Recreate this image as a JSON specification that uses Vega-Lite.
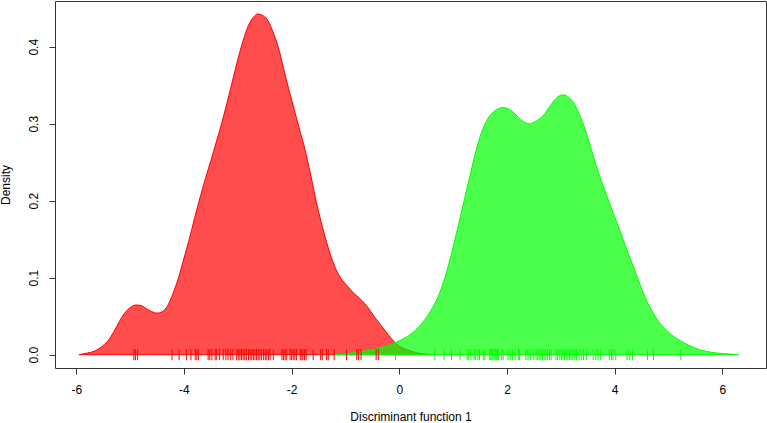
{
  "$schema": "https://vega.github.io/schema/vega-lite/v6.json",
  "width": 711,
  "height": 367,
  "autosize": "none",
  "padding": {"left": 55, "top": 1, "right": 1, "bottom": 55},
  "background": "white",
  "config": {
    "view": {"stroke": "#333333", "strokeWidth": 1},
    "font": "Liberation Sans",
    "axis": {"grid": false, "domain": false, "tickColor": "#333333", "tickSize": 6, "labelColor": "#000000", "titleColor": "#000000", "labelFont": "Liberation Sans", "titleFont": "Liberation Sans", "labelFontSize": 12, "titleFontSize": 12, "titleFontWeight": "normal"}
  },
  "datasets": {
    "dens": [
      {"g": "A", "x": -5.95, "y": 0}, {"g": "A", "x": -5.8, "y": 0.002}, {"g": "A", "x": -5.65, "y": 0.005},
      {"g": "A", "x": -5.5, "y": 0.012}, {"g": "A", "x": -5.4, "y": 0.019}, {"g": "A", "x": -5.3, "y": 0.03},
      {"g": "A", "x": -5.2, "y": 0.043}, {"g": "A", "x": -5.1, "y": 0.054}, {"g": "A", "x": -5.0, "y": 0.061},
      {"g": "A", "x": -4.9, "y": 0.0645}, {"g": "A", "x": -4.8, "y": 0.064}, {"g": "A", "x": -4.7, "y": 0.06},
      {"g": "A", "x": -4.6, "y": 0.056}, {"g": "A", "x": -4.5, "y": 0.054}, {"g": "A", "x": -4.4, "y": 0.056},
      {"g": "A", "x": -4.3, "y": 0.064}, {"g": "A", "x": -4.2, "y": 0.08}, {"g": "A", "x": -4.1, "y": 0.1},
      {"g": "A", "x": -4.0, "y": 0.125}, {"g": "A", "x": -3.9, "y": 0.15}, {"g": "A", "x": -3.8, "y": 0.178},
      {"g": "A", "x": -3.7, "y": 0.204}, {"g": "A", "x": -3.6, "y": 0.229}, {"g": "A", "x": -3.5, "y": 0.252},
      {"g": "A", "x": -3.4, "y": 0.276}, {"g": "A", "x": -3.3, "y": 0.3}, {"g": "A", "x": -3.2, "y": 0.327},
      {"g": "A", "x": -3.1, "y": 0.355}, {"g": "A", "x": -3.0, "y": 0.383}, {"g": "A", "x": -2.9, "y": 0.408},
      {"g": "A", "x": -2.8, "y": 0.428}, {"g": "A", "x": -2.7, "y": 0.439}, {"g": "A", "x": -2.63, "y": 0.4425},
      {"g": "A", "x": -2.55, "y": 0.441}, {"g": "A", "x": -2.45, "y": 0.435}, {"g": "A", "x": -2.35, "y": 0.42},
      {"g": "A", "x": -2.25, "y": 0.4}, {"g": "A", "x": -2.15, "y": 0.372}, {"g": "A", "x": -2.05, "y": 0.344},
      {"g": "A", "x": -1.95, "y": 0.318}, {"g": "A", "x": -1.85, "y": 0.292}, {"g": "A", "x": -1.75, "y": 0.266},
      {"g": "A", "x": -1.65, "y": 0.235}, {"g": "A", "x": -1.55, "y": 0.201}, {"g": "A", "x": -1.45, "y": 0.172},
      {"g": "A", "x": -1.35, "y": 0.146}, {"g": "A", "x": -1.25, "y": 0.124}, {"g": "A", "x": -1.15, "y": 0.107},
      {"g": "A", "x": -1.05, "y": 0.096}, {"g": "A", "x": -0.95, "y": 0.088}, {"g": "A", "x": -0.85, "y": 0.08},
      {"g": "A", "x": -0.75, "y": 0.074}, {"g": "A", "x": -0.65, "y": 0.067}, {"g": "A", "x": -0.55, "y": 0.058},
      {"g": "A", "x": -0.45, "y": 0.048}, {"g": "A", "x": -0.35, "y": 0.039}, {"g": "A", "x": -0.25, "y": 0.03},
      {"g": "A", "x": -0.15, "y": 0.021}, {"g": "A", "x": -0.05, "y": 0.014}, {"g": "A", "x": 0.05, "y": 0.009},
      {"g": "A", "x": 0.15, "y": 0.006}, {"g": "A", "x": 0.25, "y": 0.004}, {"g": "A", "x": 0.35, "y": 0.002},
      {"g": "A", "x": 0.45, "y": 0.001}, {"g": "A", "x": 0.6, "y": 0.0},
      {"g": "B", "x": -1.2, "y": 0}, {"g": "B", "x": -1.0, "y": 0.001}, {"g": "B", "x": -0.8, "y": 0.003},
      {"g": "B", "x": -0.6, "y": 0.005}, {"g": "B", "x": -0.4, "y": 0.008}, {"g": "B", "x": -0.2, "y": 0.012},
      {"g": "B", "x": 0.0, "y": 0.018}, {"g": "B", "x": 0.2, "y": 0.026}, {"g": "B", "x": 0.4, "y": 0.039},
      {"g": "B", "x": 0.5, "y": 0.048}, {"g": "B", "x": 0.6, "y": 0.059}, {"g": "B", "x": 0.7, "y": 0.072},
      {"g": "B", "x": 0.8, "y": 0.09}, {"g": "B", "x": 0.9, "y": 0.113}, {"g": "B", "x": 1.0, "y": 0.14},
      {"g": "B", "x": 1.1, "y": 0.169}, {"g": "B", "x": 1.2, "y": 0.199}, {"g": "B", "x": 1.3, "y": 0.229},
      {"g": "B", "x": 1.4, "y": 0.258}, {"g": "B", "x": 1.5, "y": 0.283}, {"g": "B", "x": 1.6, "y": 0.301},
      {"g": "B", "x": 1.7, "y": 0.312}, {"g": "B", "x": 1.8, "y": 0.318}, {"g": "B", "x": 1.92, "y": 0.321},
      {"g": "B", "x": 2.0, "y": 0.32}, {"g": "B", "x": 2.1, "y": 0.316}, {"g": "B", "x": 2.2, "y": 0.309},
      {"g": "B", "x": 2.3, "y": 0.303}, {"g": "B", "x": 2.42, "y": 0.3}, {"g": "B", "x": 2.5, "y": 0.302},
      {"g": "B", "x": 2.6, "y": 0.306}, {"g": "B", "x": 2.7, "y": 0.313}, {"g": "B", "x": 2.8, "y": 0.323},
      {"g": "B", "x": 2.9, "y": 0.332}, {"g": "B", "x": 3.0, "y": 0.337}, {"g": "B", "x": 3.05, "y": 0.3375},
      {"g": "B", "x": 3.15, "y": 0.334}, {"g": "B", "x": 3.25, "y": 0.326}, {"g": "B", "x": 3.35, "y": 0.311},
      {"g": "B", "x": 3.45, "y": 0.293}, {"g": "B", "x": 3.55, "y": 0.27}, {"g": "B", "x": 3.65, "y": 0.247},
      {"g": "B", "x": 3.75, "y": 0.226}, {"g": "B", "x": 3.85, "y": 0.207}, {"g": "B", "x": 3.95, "y": 0.188},
      {"g": "B", "x": 4.05, "y": 0.17}, {"g": "B", "x": 4.15, "y": 0.151}, {"g": "B", "x": 4.25, "y": 0.132},
      {"g": "B", "x": 4.35, "y": 0.114}, {"g": "B", "x": 4.45, "y": 0.095}, {"g": "B", "x": 4.55, "y": 0.077},
      {"g": "B", "x": 4.65, "y": 0.062}, {"g": "B", "x": 4.75, "y": 0.05}, {"g": "B", "x": 4.85, "y": 0.04},
      {"g": "B", "x": 4.95, "y": 0.032}, {"g": "B", "x": 5.05, "y": 0.026}, {"g": "B", "x": 5.15, "y": 0.021},
      {"g": "B", "x": 5.3, "y": 0.015}, {"g": "B", "x": 5.45, "y": 0.01}, {"g": "B", "x": 5.6, "y": 0.006},
      {"g": "B", "x": 5.8, "y": 0.003}, {"g": "B", "x": 6.0, "y": 0.0015}, {"g": "B", "x": 6.3, "y": 0.0}
    ],
    "rug": [
      {"g": "A", "v": -4.93}, {"g": "A", "v": -4.9}, {"g": "A", "v": -4.86}, {"g": "A", "v": -4.22}, {"g": "A", "v": -4.09},
      {"g": "A", "v": -3.95}, {"g": "A", "v": -3.87}, {"g": "A", "v": -3.79}, {"g": "A", "v": -3.76}, {"g": "A", "v": -3.73},
      {"g": "A", "v": -3.55}, {"g": "A", "v": -3.52}, {"g": "A", "v": -3.48}, {"g": "A", "v": -3.42}, {"g": "A", "v": -3.39},
      {"g": "A", "v": -3.34}, {"g": "A", "v": -3.27}, {"g": "A", "v": -3.22}, {"g": "A", "v": -3.18}, {"g": "A", "v": -3.13},
      {"g": "A", "v": -3.09}, {"g": "A", "v": -3.02}, {"g": "A", "v": -2.99}, {"g": "A", "v": -2.96}, {"g": "A", "v": -2.93},
      {"g": "A", "v": -2.9}, {"g": "A", "v": -2.87}, {"g": "A", "v": -2.84}, {"g": "A", "v": -2.8}, {"g": "A", "v": -2.77},
      {"g": "A", "v": -2.74}, {"g": "A", "v": -2.71}, {"g": "A", "v": -2.68}, {"g": "A", "v": -2.65}, {"g": "A", "v": -2.62},
      {"g": "A", "v": -2.59}, {"g": "A", "v": -2.56}, {"g": "A", "v": -2.52}, {"g": "A", "v": -2.49}, {"g": "A", "v": -2.46},
      {"g": "A", "v": -2.43}, {"g": "A", "v": -2.4}, {"g": "A", "v": -2.34}, {"g": "A", "v": -2.18}, {"g": "A", "v": -2.15},
      {"g": "A", "v": -2.12}, {"g": "A", "v": -2.09}, {"g": "A", "v": -2.03}, {"g": "A", "v": -2.0}, {"g": "A", "v": -1.97},
      {"g": "A", "v": -1.94}, {"g": "A", "v": -1.91}, {"g": "A", "v": -1.84}, {"g": "A", "v": -1.81}, {"g": "A", "v": -1.79},
      {"g": "A", "v": -1.76}, {"g": "A", "v": -1.73}, {"g": "A", "v": -1.6}, {"g": "A", "v": -1.46}, {"g": "A", "v": -1.43},
      {"g": "A", "v": -1.35}, {"g": "A", "v": -1.32}, {"g": "A", "v": -1.21}, {"g": "A", "v": -0.98}, {"g": "A", "v": -0.79},
      {"g": "A", "v": -0.76}, {"g": "A", "v": -0.71}, {"g": "A", "v": -0.43}, {"g": "A", "v": -0.39},
      {"g": "B", "v": -0.07}, {"g": "B", "v": 0.66}, {"g": "B", "v": 0.83}, {"g": "B", "v": 0.97}, {"g": "B", "v": 1.13},
      {"g": "B", "v": 1.26}, {"g": "B", "v": 1.29}, {"g": "B", "v": 1.33}, {"g": "B", "v": 1.39}, {"g": "B", "v": 1.42},
      {"g": "B", "v": 1.46}, {"g": "B", "v": 1.49}, {"g": "B", "v": 1.56}, {"g": "B", "v": 1.59}, {"g": "B", "v": 1.68},
      {"g": "B", "v": 1.7}, {"g": "B", "v": 1.72}, {"g": "B", "v": 1.74}, {"g": "B", "v": 1.76}, {"g": "B", "v": 1.78},
      {"g": "B", "v": 1.8}, {"g": "B", "v": 1.82}, {"g": "B", "v": 1.84}, {"g": "B", "v": 1.9}, {"g": "B", "v": 1.93},
      {"g": "B", "v": 2.02}, {"g": "B", "v": 2.06}, {"g": "B", "v": 2.1}, {"g": "B", "v": 2.15}, {"g": "B", "v": 2.21},
      {"g": "B", "v": 2.23}, {"g": "B", "v": 2.35}, {"g": "B", "v": 2.39}, {"g": "B", "v": 2.44}, {"g": "B", "v": 2.5},
      {"g": "B", "v": 2.54}, {"g": "B", "v": 2.57}, {"g": "B", "v": 2.6}, {"g": "B", "v": 2.63}, {"g": "B", "v": 2.66},
      {"g": "B", "v": 2.69}, {"g": "B", "v": 2.72}, {"g": "B", "v": 2.75}, {"g": "B", "v": 2.79}, {"g": "B", "v": 2.82},
      {"g": "B", "v": 2.91}, {"g": "B", "v": 2.94}, {"g": "B", "v": 2.98}, {"g": "B", "v": 3.01}, {"g": "B", "v": 3.04},
      {"g": "B", "v": 3.07}, {"g": "B", "v": 3.1}, {"g": "B", "v": 3.13}, {"g": "B", "v": 3.16}, {"g": "B", "v": 3.19},
      {"g": "B", "v": 3.22}, {"g": "B", "v": 3.26}, {"g": "B", "v": 3.29}, {"g": "B", "v": 3.34}, {"g": "B", "v": 3.38},
      {"g": "B", "v": 3.42}, {"g": "B", "v": 3.48}, {"g": "B", "v": 3.6}, {"g": "B", "v": 3.65}, {"g": "B", "v": 3.69},
      {"g": "B", "v": 3.74}, {"g": "B", "v": 3.9}, {"g": "B", "v": 3.94}, {"g": "B", "v": 3.97}, {"g": "B", "v": 4.02},
      {"g": "B", "v": 4.23}, {"g": "B", "v": 4.28}, {"g": "B", "v": 4.33}, {"g": "B", "v": 4.61}, {"g": "B", "v": 4.72},
      {"g": "B", "v": 5.23}
    ]
  },
  "layer": [
    {
      "data": {"name": "dens"},
      "transform": [{"filter": "datum.g === 'A'"}],
      "mark": {"type": "area", "interpolate": "monotone", "fill": "#ff0000", "fillOpacity": 0.7, "stroke": "#ff0000", "strokeWidth": 1},
      "encoding": {
        "x": {"field": "x", "type": "quantitative", "scale": {"domain": [-6.394, 6.81], "nice": false, "zero": false},
              "axis": {"values": [-6, -4, -2, 0, 2, 4, 6], "labelExpr": "'' + datum.value", "title": "Discriminant function 1", "labelPadding": 10, "titleBaseline": "alphabetic", "titleY": 52}},
        "y": {"field": "y", "type": "quantitative", "scale": {"domain": [-0.0173, 0.4594], "nice": false, "zero": false},
              "axis": {"values": [0, 0.1, 0.2, 0.3, 0.4], "format": ".1f", "title": "Density", "labelAngle": 270, "labelAlign": "center", "labelBaseline": "bottom", "labelPadding": 9, "titlePadding": 15}}
      }
    },
    {
      "data": {"name": "dens"},
      "transform": [{"filter": "datum.g === 'B'"}],
      "mark": {"type": "area", "interpolate": "monotone", "fill": "#00ff00", "fillOpacity": 0.7, "stroke": "#00ff00", "strokeWidth": 1},
      "encoding": {
        "x": {"field": "x", "type": "quantitative"},
        "y": {"field": "y", "type": "quantitative"}
      }
    },
    {
      "data": {"name": "rug"},
      "mark": {"type": "rule", "strokeWidth": 1},
      "encoding": {
        "x": {"field": "v", "type": "quantitative"},
        "y": {"datum": -0.0072, "type": "quantitative"},
        "y2": {"datum": 0.0072},
        "color": {"field": "g", "type": "nominal", "scale": {"domain": ["A", "B"], "range": ["#ff0000", "#00ff00"]}, "legend": null}
      }
    }
  ]
}
